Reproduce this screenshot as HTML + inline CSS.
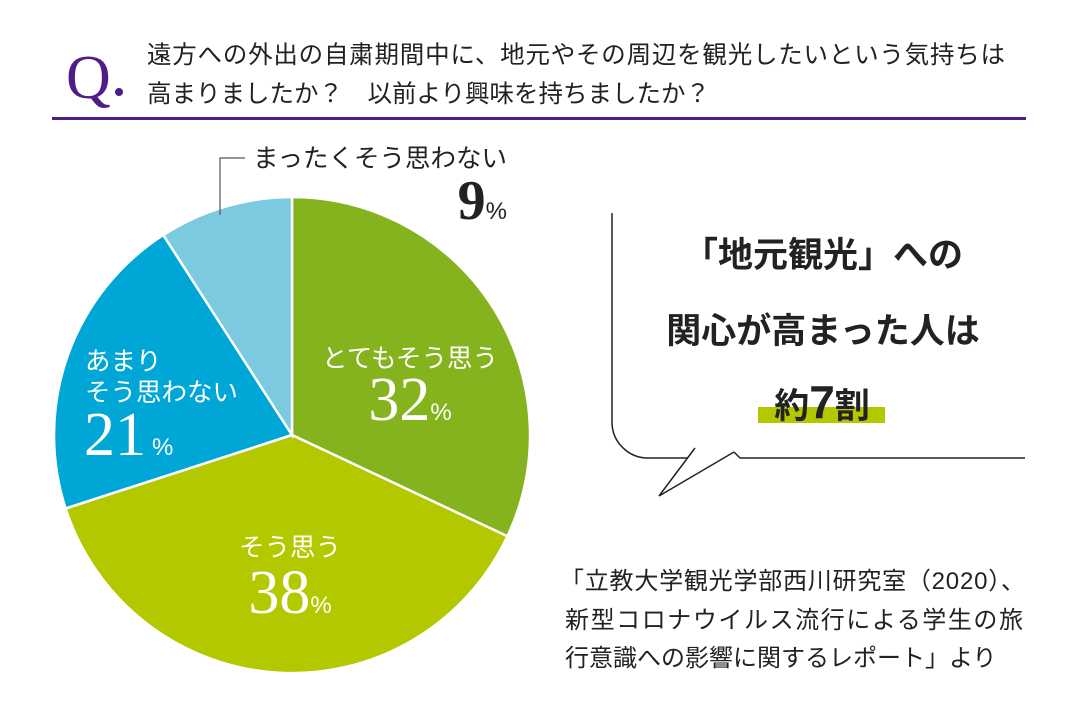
<!DOCTYPE html>
<html><head><meta charset="utf-8"><style>
body{margin:0;background:#fff;}
svg text{font-family:"Liberation Sans","Noto Sans CJK JP",sans-serif;}
.n{font-family:"Liberation Serif","Noto Serif CJK SC",serif;}
</style></head><body>
<svg width="1070" height="723" viewBox="0 0 1070 723" xmlns="http://www.w3.org/2000/svg">
<text x="66" y="98" class="n" font-size="62" fill="#4e1d8a">Q</text>
<circle cx="119" cy="92" r="4" fill="#4e1d8a"/>
<text x="147" y="63" font-size="24.5" fill="#222" textLength="858">遠方への外出の自粛期間中に、地元やその周辺を観光したいという気持ちは</text>
<text x="147" y="102" font-size="24.5" fill="#222">高まりましたか？　以前より興味を持ちましたか？</text>
<rect x="52" y="117" width="974" height="3" fill="#4e1d8a"/>

<g stroke="#fff" stroke-width="2.5">
<path d="M292 435 L292 197 A238 238 0 0 1 507.4 536.3 Z" fill="#84b31e"/>
<path d="M292 435 L507.4 536.3 A238 238 0 0 1 65.6 508.5 Z" fill="#b4c800"/>
<path d="M292 435 L65.6 508.5 A238 238 0 0 1 163.3 235.0 Z" fill="#00a7d6"/>
<path d="M292 435 L163.3 235.0 A238 238 0 0 1 292 197 Z" fill="#7ccadf"/>
</g>
<polyline points="220,215 220,158 245,158" fill="none" stroke="#555" stroke-width="1.2"/>
<text x="253" y="167" font-size="25.5" fill="#222">まったくそう思わない</text>
<text x="507" y="219" text-anchor="end" fill="#222"><tspan class="n" font-size="56" font-weight="bold">9</tspan><tspan font-size="24">%</tspan></text>

<g fill="#fff">
<text x="410" y="367" text-anchor="middle" font-size="25.5">とてもそう思う</text>
<text x="410" y="420" text-anchor="middle"><tspan class="n" font-size="62">32</tspan><tspan font-size="24">%</tspan></text>
<text x="85" y="370" font-size="25.5">あまり</text>
<text x="85" y="401" font-size="25.5">そう思わない</text>
<text x="84" y="455"><tspan class="n" font-size="62">21</tspan><tspan font-size="24" dx="6">%</tspan></text>
<text x="290" y="556" text-anchor="middle" font-size="25.5">そう思う</text>
<text x="290" y="613" text-anchor="middle"><tspan class="n" font-size="62">38</tspan><tspan font-size="24">%</tspan></text>
</g>

<path d="M612 213 L612 422 A36 36 0 0 0 648 458 L687 458 M734 452 L659 496 L695 448 M734 452 L740 458 L1025 458" fill="none" stroke="#222" stroke-width="1.5"/>
<rect x="758" y="407" width="127" height="16" fill="#b4c800"/>
<g fill="#222" font-weight="bold" text-anchor="middle">
<text x="823" y="267" font-size="35">「地元観光」への</text>
<text x="823" y="343" font-size="35">関心が高まった人は</text>
<text x="822" y="418" font-size="35">約<tspan font-size="46">7</tspan>割</text>
</g>
<g fill="#222" font-size="24">
<text x="560" y="589" textLength="465">「立教大学観光学部西川研究室（2020）、</text>
<text x="565" y="628" textLength="458">新型コロナウイルス流行による学生の旅</text>
<text x="565" y="666">行意識への影響に関するレポート」より</text>
</g>
</svg>
</body></html>
